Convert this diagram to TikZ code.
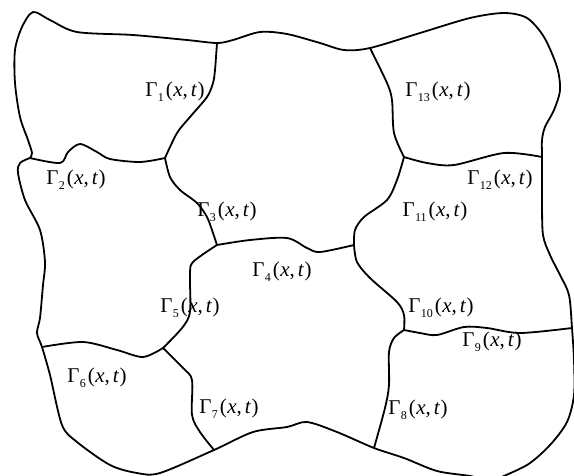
\documentclass[tikz,border=0pt]{standalone}
\usepackage{fontspec}
\setmainfont{Liberation Serif}
\newcommand{\glab}[1]{Γ\kern0.3pt\raisebox{-0.5ex}{\fontsize{12}{12}\selectfont #1}\kern2pt(\kern0.5pt\textit{x},\kern3pt\textit{t}\kern0.5pt)}
\begin{document}
\begin{tikzpicture}[x=1pt,y=-1pt,
  bnd/.style={line width=1.8pt, line join=round, line cap=round},
  lab/.style={font=\fontsize{21}{24}\selectfont, inner sep=0pt}]
\useasboundingbox (0,0) rectangle (574,475);
% junctions
\coordinate (JL) at (30,158);
\coordinate (J1) at (165,158);
\coordinate (JT1) at (217,43);
\coordinate (J4) at (217,245);
\coordinate (J5) at (354,245);
\coordinate (JT13) at (370,48);
\coordinate (J13) at (404,157);
\coordinate (JR12) at (542,157);
\coordinate (J10) at (404,330);
\coordinate (JR9) at (572,328);
\coordinate (JB8) at (374,448);
\coordinate (J6) at (163,348);
\coordinate (JL6) at (42,347);
\coordinate (JB7) at (214,450);
\coordinate (JBR) at (492,481);
% outer boundary
\draw[bnd] plot[smooth] coordinates {(JL) (32,153) (28,140) (20,117) (15,83) (15,50) (22,27) (33,12) (50,20) (77,32) (133,35) (187,40) (JT1) (233,40) (260,32) (287,34) (320,43) (344,50) (JT13) (420,33) (470,18) (504,13) (527,18) (544,37) (557,67) (560,90) (554,110) (545,127) (542,140) (JR12) (542,200) (543,235) (550,255) (560,275) (569,295) (JR9) (574,360) (574,395) (567,422) (550,445) (527,465) (JBR)};
\draw[bnd] plot[smooth] coordinates {(JBR) (470,476) (437,471) (404,458) (JB8) (337,432) (307,422) (287,427) (253,432) (JB7) (160,473) (137,473) (110,465) (77,442) (62,425) (50,375) (JL6) (37,333) (40,318) (43,285) (45,262) (40,230) (25,200) (18,173) (20,163) (JL)};
% interior boundaries
\draw[bnd] plot[smooth] coordinates {(JT1) (215,70) (213,83) (207,97) (190,117) (177,133) (J1)};
\draw[bnd] plot[smooth] coordinates {(JL) (60,163) (68,152) (80,144) (97,152) (110,159) (140,162) (J1)};
\draw[bnd] plot[smooth] coordinates {(J1) (170,177) (180,190) (197,203) (207,217) (213,233) (J4)};
\draw[bnd] plot[smooth] coordinates {(J4) (250,240) (287,238) (307,248) (320,252) (J5)};
\draw[bnd] plot[smooth] coordinates {(J4) (193,262) (190,275) (190,312) (182,328) (J6)};
\draw[bnd] plot[smooth] coordinates {(JL6) (83,342) (117,350) (143,357) (J6)};
\draw[bnd] plot[smooth] coordinates {(J6) (183,368) (192,380) (192,415) (200,432) (JB7)};
\draw[bnd] plot[smooth] coordinates {(JT13) (387,83) (392,100) (394,133) (J13)};
\draw[bnd] plot[smooth] coordinates {(J13) (427,163) (454,165) (504,153) (JR12)};
\draw[bnd] plot[smooth] coordinates {(J13) (397,180) (387,200) (364,217) (355,230) (J5)};
\draw[bnd] plot[smooth] coordinates {(J5) (357,262) (370,278) (397,302) (404,315) (J10)};
\draw[bnd] plot[smooth] coordinates {(J10) (420,333) (437,335) (464,327) (487,328) (520,333) (JR9)};
\draw[bnd] plot[smooth] coordinates {(J10) (394,338) (389,352) (389,385) (385,408) (JB8)};
% labels
\node[lab] (g1) at (175,92) {\glab{1}};
\node[lab] (g2) at (76,180) {\glab{2}};
\node[lab] (g3) at (227,212) {\glab{3}};
\node[lab] (g4) at (282,272) {\glab{4}};
\node[lab] (g5) at (190,308) {\glab{5}};
\node[lab] (g6) at (97,378) {\glab{6}};
\node[lab] (g7) at (229,409) {\glab{7}};
\node[lab] (g8) at (418,410) {\glab{8}};
\node[lab] (g9) at (492,342) {\glab{9}};
\node[lab] (g10) at (441,308) {\glab{10}};
\node[lab] (g11) at (435,212) {\glab{11}};
\node[lab] (g12) at (500,180) {\glab{12}};
\node[lab] (g13) at (438,92) {\glab{13}};
\end{tikzpicture}
\end{document}
